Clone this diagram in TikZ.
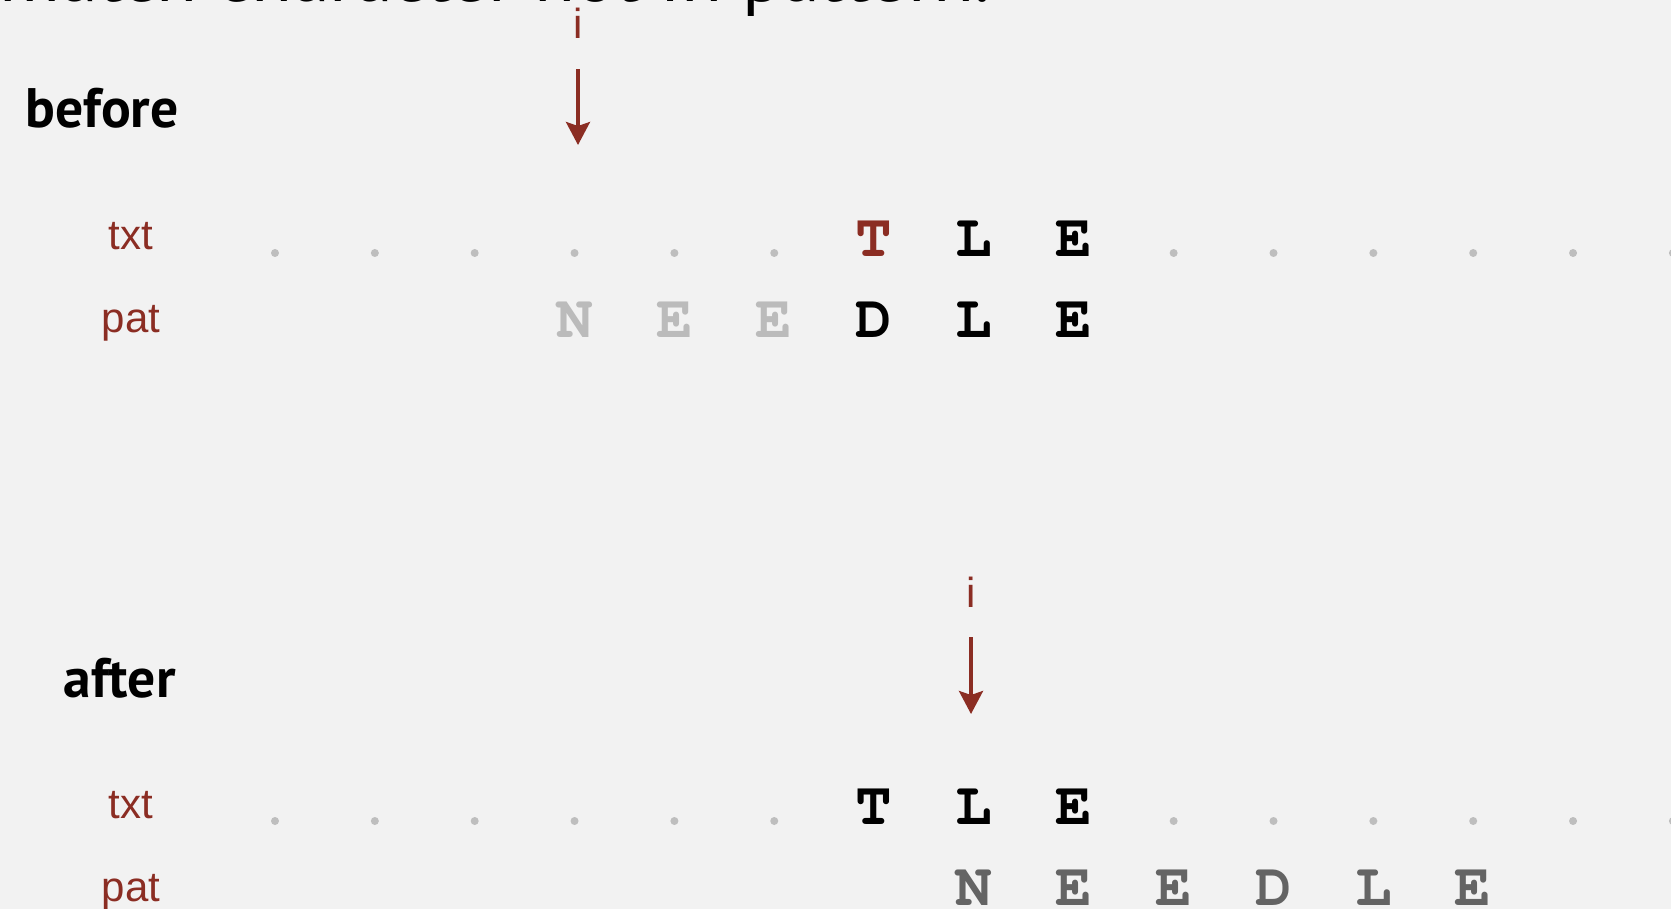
\documentclass[tikz,border=0pt]{standalone}
\usepackage{fontspec}
\setmainfont{Liberation Sans}
\newfontfamily\slidefont{PT Sans}
\usepackage{xcolor}
\usetikzlibrary{arrows.meta}

\definecolor{slidebg}{RGB}{242,242,242}
\definecolor{bookred}{RGB}{139,45,35}
\definecolor{dotgray}{RGB}{190,190,190}
\definecolor{fadegray}{RGB}{187,187,187}
\definecolor{midgray}{RGB}{100,100,100}

\begin{document}
\begin{tikzpicture}[x=0.5pt, y=-0.5pt,
  ch/.style={font=\fontencoding{T1}\fontfamily{pcr}\fontseries{b}\fontsize{30.5pt}{30pt}\selectfont, inner sep=0pt, anchor=base},
  dotmark/.style={circle, fill=dotgray, inner sep=0pt, minimum size=4pt},
  lab/.style={font=\fontsize{21pt}{21pt}\selectfont, text=bookred, inner sep=0pt, anchor=base},
  phase/.style={font=\slidefont\bfseries\fontsize{27.8pt}{28pt}\selectfont, inner sep=0pt, anchor=base east},
  ptr/.style={draw=bookred, line width=1.75pt, shorten <=15pt, -{Stealth[length=11.5pt, width=12pt, inset=2pt]}}
]
\fill[slidebg] (0,0) rectangle (1671,909);
\useasboundingbox (0,0) rectangle (1671,909);
\clip (0,0) rectangle (1671,909);

% heading, mostly off the top edge
\node[font=\slidefont\fontsize{37.5pt}{38pt}\selectfont, inner sep=0pt, anchor=base east] (head) at (991,2) {Mismatch character not in pattern.};

% before
\node[phase] (before) at (179,128) {before};
\node[lab] (itop) at (578,39) {i};
\coordinate (ptop) at (578,145);
\draw[ptr] (itop.south) -- (ptop);
\node[lab] (txt1) at (131,250) {txt};
\node[lab] (pat1) at (131,333) {pat};
\foreach \k in {0,...,5,9,10,...,14}
  \node[dotmark] (td\k) at ({275+99.85*\k},253) {};
\foreach \k/\c/\col in {6/T/bookred,7/L/black,8/E/black}
  \node[ch, text=\col] (tt\k) at ({275+99.85*\k},257) {\c};
\foreach \k/\c/\col in {3/N/fadegray,4/E/fadegray,5/E/fadegray,6/D/black,7/L/black,8/E/black}
  \node[ch, text=\col] (tp\k) at ({275+99.85*\k},337) {\c};

% after
\node[phase] (after) at (176,697) {after};
\node[lab] (ibot) at (971,607) {i};
\coordinate (pbot) at (971,714);
\draw[ptr] (ibot.south) -- (pbot);
\node[lab] (txt2) at (131,818) {txt};
\node[lab] (pat2) at (131,901) {pat};
\foreach \k in {0,...,5,9,10,...,14}
  \node[dotmark] (bd\k) at ({275+99.85*\k},821) {};
\foreach \k/\c in {6/T,7/L,8/E}
  \node[ch] (bt\k) at ({275+99.85*\k},824) {\c};
\foreach \k/\c in {7/N,8/E,9/E,10/D,11/L,12/E}
  \node[ch, text=midgray] (bp\k) at ({275+99.85*\k},905) {\c};
\end{tikzpicture}
\end{document}
